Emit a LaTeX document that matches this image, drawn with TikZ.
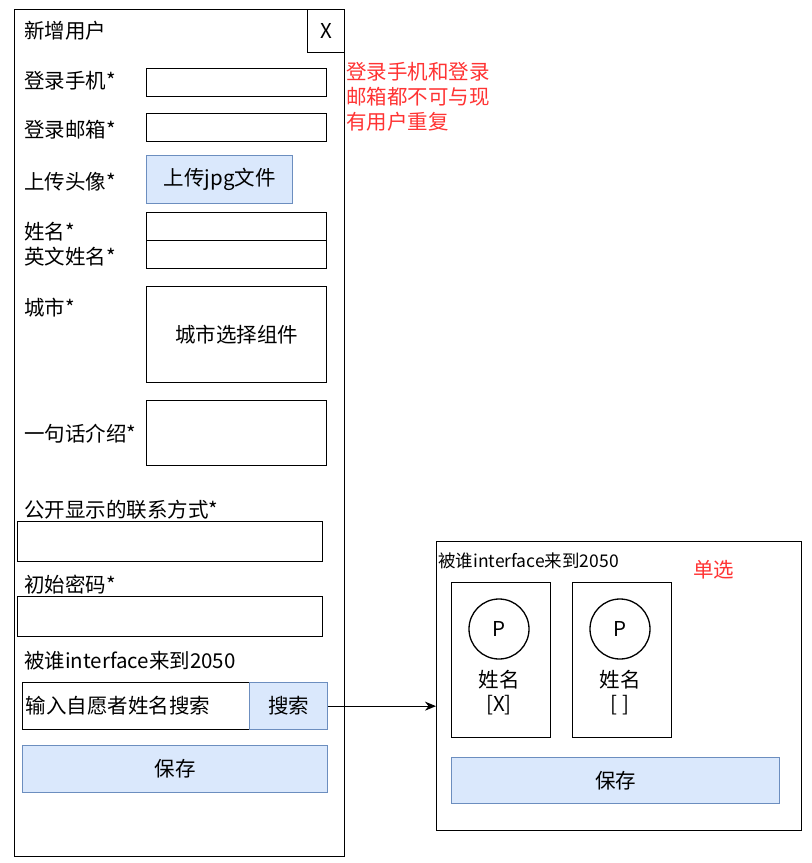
\documentclass[tikz,border=0pt]{standalone}
\usepackage{fontspec}
\setmainfont{Noto Sans CJK SC}
\usetikzlibrary{
	positioning,
	arrows.meta
}
\definecolor{btnfill}{HTML}{DAE8FC}
\definecolor{btnline}{HTML}{6C8EBF}
\definecolor{note}{HTML}{FF3333}
\tikzset{
	wh/.style 2 args={minimum width=#1pt, minimum height=#2pt},
	box/.style={draw, line width=1.3pt, inner sep=0pt, anchor=north west, font=\fontsize{20.5}{24}\selectfont},
	btn/.style={box, fill=btnfill, draw=btnline},
	lbl/.style={anchor=west, inner sep=0pt, font=\fontsize{20.5}{24}\selectfont},
	hint/.style={lbl, text=note, align=left, font=\fontsize{20.5}{25}\selectfont}
}

\begin{document}
\begin{tikzpicture}[x=1pt, y=-1pt]
		\useasboundingbox (0,0) rectangle (812,863);
		\draw
			% form
			node[box,wh={330}{847}]            (form)   at (14,9)   {}
			node[box,wh={37}{43}]              (close)  at (307,9)  {X}
			node[lbl]                          (title)  at (24,31)  {新增用户}
			node[hint,anchor=north west]       (rule)   at (346,62) {登录手机和登录\\邮箱都不可与现\\有用户重复}

			node[lbl]                          (lphone) at (24,81)  {登录手机*}
			node[box,wh={180}{28}]             (phone)  at (146,68) {}
			node[lbl]                          (lmail)  at (24,130) {登录邮箱*}
			node[box,wh={180}{28}]             (mail)   at (146,113) {}
			node[lbl]                          (lpic)   at (24,182) {上传头像*}
			node[btn,wh={146}{48}]             (upload) at (146,155) {上传jpg文件}
			node[lbl]                          (lname)  at (24,232) {姓名*}
			node[box,wh={180}{28}]             (name)   at (146,212) {}
			node[lbl]                          (lename) at (24,257) {英文姓名*}
			node[box,wh={180}{28}]             (ename)  at (146,240) {}
			node[lbl]                          (lcity)  at (24,308) {城市*}
			node[box,wh={180}{96}]             (city)   at (146,286) {城市选择组件}
			node[lbl]                          (lintro) at (24,434) {一句话介绍*}
			node[box,wh={180}{65}]             (intro)  at (146,400) {}
			node[lbl]                          (lcont)  at (24,510) {公开显示的联系方式*}
			node[box,wh={305}{40}]             (cont)   at (17,521) {}
			node[lbl]                          (lpass)  at (24,585) {初始密码*}
			node[box,wh={305}{40}]             (pass)   at (17,596) {}
			node[lbl]                          (lref)   at (24,661) {被谁interface来到2050}
			node[box,wh={227}{47},text width=225pt,align=left] (query) at (22,682) {\hspace{2pt}输入自愿者姓名搜索}
			node[btn,wh={78}{47}]              (search) at (249,682) {搜索}
			node[btn,wh={305}{47}]             (save)   at (22,745) {保存}

			% picker
			node[box,wh={365}{289}]            (pick)   at (436,541) {}
			node[lbl,font=\fontsize{17.5}{20}\selectfont] (ptitle) at (438,561) {被谁interface来到2050}
			node[lbl,text=note]                (single) at (693,570) {单选}
			node[box,wh={99}{155}]             (card1)  at (451,582) {}
			node[box,wh={99}{155}]             (card2)  at (572,582) {}
			node[circle,draw,line width=1.3pt,minimum size=60pt,font=\fontsize{20.5}{24}\selectfont] (p1) at (499,629) {P}
			node[circle,draw,line width=1.3pt,minimum size=60pt,font=\fontsize{20.5}{24}\selectfont] (p2) at (620,629) {P}
			node[lbl,anchor=center,align=center] (n1) at (499,693) {姓名\\{[X]}}
			node[lbl,anchor=center,align=center] (n2) at (620,693) {姓名\\{[ ]}}
			node[btn,wh={328}{46}]             (psave)  at (451,757) {保存}
		;
		\draw[line width=1.3pt,-{Stealth[length=11pt,width=9pt]}] (search.east) -- (search.east -| pick.west);
\end{tikzpicture}
\end{document}
